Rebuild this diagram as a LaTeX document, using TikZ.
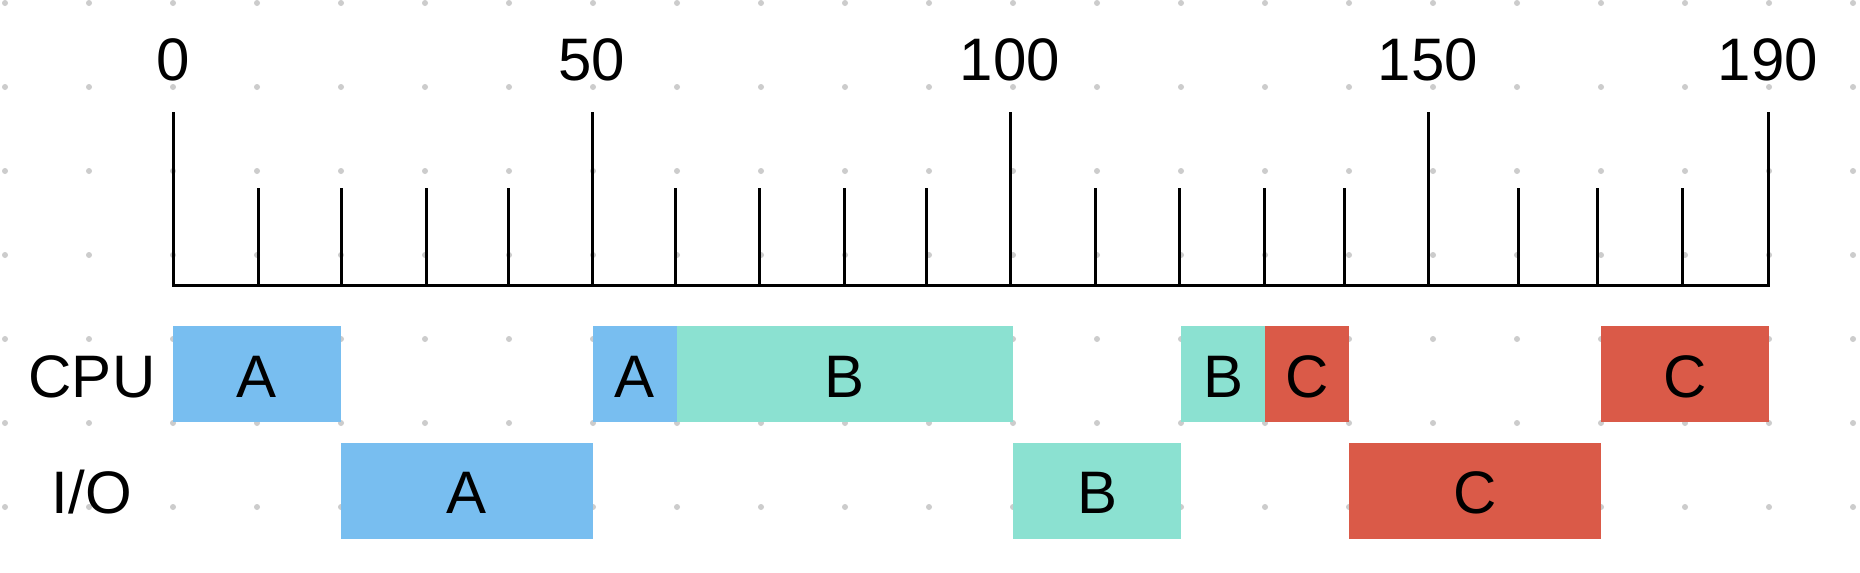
\documentclass[tikz,border=0pt]{standalone}
\usepackage{fontspec}
\setmainfont{Liberation Sans}
\definecolor{ablue}{HTML}{78BEF0}
\definecolor{bteal}{HTML}{8BE1D1}
\definecolor{cred}{HTML}{DA5A48}
\definecolor{dotgray}{HTML}{CCCCCC}
\newcommand\gantt[6]{%
  \pgfmathsetmacro\segw{6.3*(#3-#2)}%
  \pgfmathsetmacro\segx{173+4.2*(#2+#3)}%
  \node[segbox, fill=#5, minimum width=\segw pt] (#1) at (\segx, #4) {#6};}
\begin{document}
\begin{tikzpicture}[x=0.75pt,y=-0.75pt,
  lbl/.style={font=\fontsize{45}{54}\selectfont, inner sep=0pt, text=black},
  segbox/.style={lbl, draw=none, minimum height=72pt, text height=35pt, text depth=0pt},
  axisline/.style={line width=2.25pt, black},
  gdot/.style={fill=dotgray},
]
\fill[white] (0,0) rectangle (1860,572);
\useasboundingbox (0,0) rectangle (1860,572);
% dot grid
\foreach \i in {0,...,22}
  \foreach \j in {0,...,6}
    \fill[gdot] (5+84*\i, 3+84*\j) circle[radius=2.25pt];
% timeline axis
\draw[axisline] (173,112) -- (173,285) -- (1768,285) -- (1768,112);
\foreach \xx in {258,341,426,508,675,759,844,926,1095,1179,1264,1344,1518,1597,1682}
  \draw[axisline] (\xx,188) -- (\xx,285);
\foreach \xx in {592,1010,1428}
  \draw[axisline] (\xx,112) -- (\xx,285);
% tick labels
\foreach \tk/\xx in {0/173,50/592,100/1010,150/1428,190/1768}
  \node[lbl, anchor=base] (n\tk) at (\xx,80) {\tk};
% row labels
\node[lbl, anchor=base] (cpu) at (92,397.5) {CPU};
\node[lbl, anchor=base] (io) at (92,513.5) {I/O};
% CPU row
\gantt{cpuA1}{0}{20}{374}{ablue}{A}
\gantt{cpuA2}{50}{60}{374}{ablue}{A}
\gantt{cpuB1}{60}{100}{374}{bteal}{B}
\gantt{cpuB2}{120}{130}{374}{bteal}{B}
\gantt{cpuC1}{130}{140}{374}{cred}{C}
\gantt{cpuC2}{170}{190}{374}{cred}{C}
% I/O row
\gantt{ioA}{20}{50}{490.5}{ablue}{A}
\gantt{ioB}{100}{120}{490.5}{bteal}{B}
\gantt{ioC}{140}{170}{490.5}{cred}{C}
\end{tikzpicture}
\end{document}
